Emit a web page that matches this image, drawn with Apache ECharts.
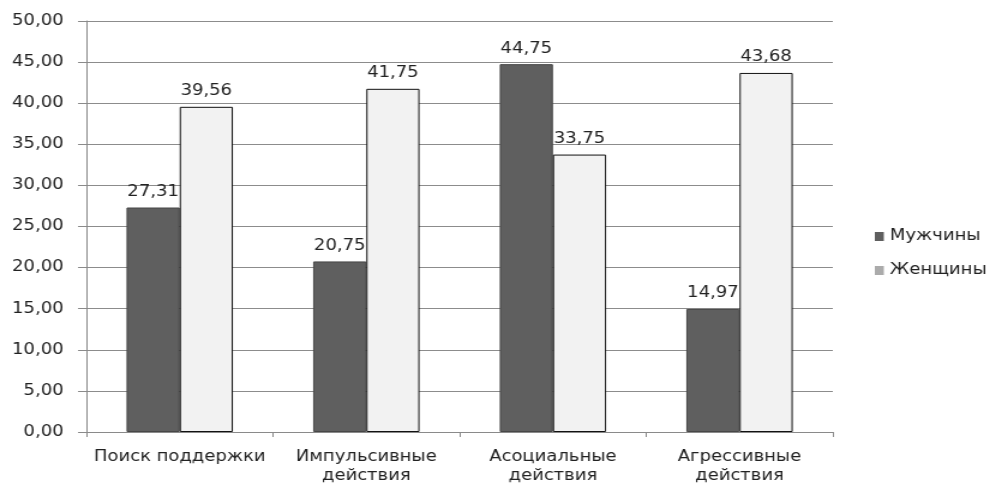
<!DOCTYPE html>
<html>
<head>
<meta charset="utf-8">
<script src="https://cdn.jsdelivr.net/npm/echarts@6/dist/echarts.min.js"></script>
<style>
  html, body { margin: 0; padding: 0; background: #fff; overflow: hidden; }
  #wrap { width: 988px; height: 483px; overflow: hidden; }
  /* the chart is laid out narrower and widened horizontally, giving the broad lettering */
  #chart { width: 823px; height: 483px; transform: scaleX(1.2); transform-origin: 0 0; }
</style>
</head>
<body>
<div id="wrap"><div id="chart"></div></div>
<script>
const categories = ['Поиск поддержки', 'Импульсивные\nдействия', 'Асоциальные\nдействия', 'Агрессивные\nдействия'];
const seriesNames = ['Мужчины', 'Женщины'];
const menValues = [27.31, 20.75, 44.75, 14.97];
const womenValues = [39.56, 41.75, 33.75, 43.68];
const yTicks = { min: 0, max: 50, interval: 5 };

const fmt = v => Number(v).toFixed(2).replace('.', ',');
const FONT = 'DejaVu Sans';
const TEXT = '#222222';

const chart = echarts.init(document.getElementById('chart'), null, { renderer: 'canvas' });

chart.setOption({
  backgroundColor: '#ffffff',
  animation: false,
  textStyle: { fontFamily: FONT },
  grid: { left: 72, right: 129, top: 21, bottom: 51, containLabel: false, outerBoundsMode: 'none' },
  legend: {
    orient: 'vertical',
    left: 724,
    top: 224,
    itemWidth: 7.5,
    itemHeight: 9,
    itemGap: 19,
    icon: 'rect',
    textStyle: { fontFamily: FONT, fontSize: 15, color: TEXT, padding: [0, 0, 0, 0] },
    data: [
      { name: seriesNames[0], itemStyle: { color: '#5f5f5f', borderWidth: 0 } },
      { name: seriesNames[1], itemStyle: { color: '#ababab', borderWidth: 0 } }
    ]
  },
  xAxis: {
    type: 'category',
    data: categories,
    boundaryGap: true,
    axisLine: { lineStyle: { color: '#8a8a8a', width: 1 } },
    axisTick: { show: true, length: 5, lineStyle: { color: '#8a8a8a' } },
    axisLabel: {
      fontFamily: FONT, fontSize: 15, color: TEXT, margin: 16, lineHeight: 19,
      interval: 0
    }
  },
  yAxis: {
    type: 'value',
    min: yTicks.min,
    max: yTicks.max,
    interval: yTicks.interval,
    axisLine: { show: true, lineStyle: { color: '#8a8a8a', width: 1 } },
    axisTick: { show: true, length: 7, lineStyle: { color: '#8a8a8a' } },
    splitLine: { show: true, lineStyle: { color: '#8c8c8c', width: 1 } },
    axisLabel: {
      fontFamily: FONT, fontSize: 15, color: TEXT, margin: 19,
      formatter: v => fmt(v)
    }
  },
  series: [
    {
      name: seriesNames[0],
      type: 'bar',
      data: menValues,
      barGap: '0%',
      barCategoryGap: '43%',
      itemStyle: { color: '#5f5f5f', borderColor: '#474747', borderWidth: 1 },
      label: {
        show: true, position: 'top', distance: 8,
        fontFamily: FONT, fontSize: 15, color: TEXT,
        formatter: p => fmt(p.value)
      }
    },
    {
      name: seriesNames[1],
      type: 'bar',
      data: womenValues,
      barGap: '0%',
      barCategoryGap: '43%',
      itemStyle: { color: '#f2f2f2', borderColor: '#111111', borderWidth: 1 },
      label: {
        show: true, position: 'top', distance: 8,
        fontFamily: FONT, fontSize: 15, color: TEXT,
        formatter: p => fmt(p.value)
      }
    }
  ]
});
</script>
</body>
</html>
